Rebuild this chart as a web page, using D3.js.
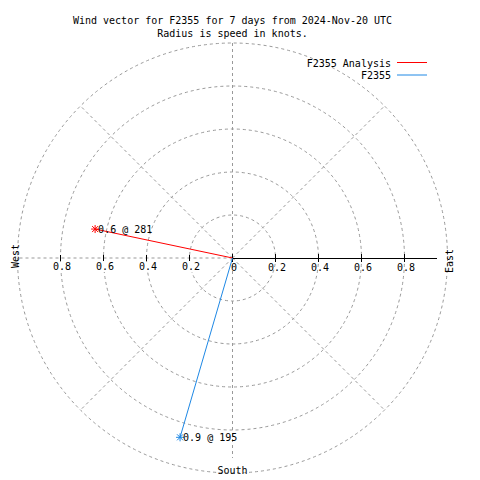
<!DOCTYPE html>
<html><head><meta charset="utf-8">
<script src="https://cdn.jsdelivr.net/npm/d3@7"></script>
<style>body{margin:0;background:#fff}svg{display:block}text{font-family:"DejaVu Sans Mono",monospace;font-size:10px;fill:#000}</style>
</head><body>
<script>
// data
const seriesNames = ["F2355 Analysis", "F2355"];
const seriesColors = ["#ff0000", "#1e88e5"];
const speeds = [0.653, 0.869];          // knots (radius)
const directions = [281.9, 196.3];      // degrees, clockwise from north
const pointLabels = ["0.6 @ 281", "0.9 @ 195"];
const ringValues = [0.2, 0.4, 0.6, 0.8, 1.0];
const tickValues = [0.2, 0.4, 0.6, 0.8];
const tickLabels = ["0.2", "0.4", "0.6", "0.8"];
const spokeAngles = [45, 135, 225, 315];
const titleLines = ["Wind vector for F2355 for 7 days from 2024-Nov-20 UTC", "Radius is speed in knots."];

const W = 480, H = 480, cx = 232.5, cy = 258;
const svg = d3.select("body").append("svg").attr("width", W).attr("height", H);
const r = d3.scaleLinear().domain([0, 1]).range([0, 215]);
const px = (v, a) => cx + r(v) * Math.sin(a * Math.PI / 180);
const py = (v, a) => cy - r(v) * Math.cos(a * Math.PI / 180);

const grid = svg.append("g").attr("fill", "none").attr("stroke", "#999").attr("stroke-dasharray", "3,3");
grid.selectAll("circle").data(ringValues).join("circle")
  .attr("cx", cx).attr("cy", cy).attr("r", d => r(d));
grid.selectAll("line.spoke").data(spokeAngles).join("line").attr("class", "spoke")
  .attr("x1", cx).attr("y1", cy).attr("x2", d => px(1, d)).attr("y2", d => py(1, d));
grid.append("line").attr("x1", cx).attr("y1", py(1, 0)).attr("x2", cx).attr("y2", py(0.93, 180));
grid.append("line").attr("x1", cx).attr("y1", cy).attr("x2", px(1, 270)).attr("y2", cy);

// left (west) ticks and labels
const left = svg.append("g").attr("shape-rendering", "crispEdges");
left.selectAll("line").data(tickValues).join("line")
  .attr("x1", d => px(d, 270)).attr("x2", d => px(d, 270))
  .attr("y1", cy - 3).attr("y2", cy + 3).attr("stroke", "#000");
left.selectAll("rect").data(tickValues).join("rect")
  .attr("x", d => px(d, 270) - 8).attr("y", cy + 4).attr("width", 19).attr("height", 10).attr("fill", "#fff");
left.selectAll("text").data(tickValues).join("text")
  .attr("x", d => px(d, 270) + 1.5).attr("y", cy + 12).attr("text-anchor", "middle")
  .text((d, i) => tickLabels[i]);

// right (east) axis
const xr = d3.scaleLinear().domain([0, 0.95]).range([cx, px(0.95, 90)]);
const right = svg.append("g").attr("shape-rendering", "crispEdges");
right.append("line").attr("x1", xr(0)).attr("x2", xr(0.95)).attr("y1", cy).attr("y2", cy).attr("stroke", "#000");
right.selectAll("line.t").data([0].concat(tickValues)).join("line").attr("class", "t")
  .attr("x1", d => xr(d)).attr("x2", d => xr(d))
  .attr("y1", cy - 4).attr("y2", cy + 4).attr("stroke", "#000");
right.selectAll("text").data([0].concat(tickValues)).join("text")
  .attr("x", d => xr(d) + 1.5).attr("y", cy + 13).attr("text-anchor", "middle")
  .text((d, i) => i === 0 ? "0" : tickLabels[i - 1]);

// compass labels
svg.append("text").attr("transform", `translate(19,${cy - 2}) rotate(-90)`).attr("text-anchor", "middle").text("West");
svg.append("text").attr("transform", `translate(453,${cy + 3}) rotate(-90)`).attr("text-anchor", "middle").text("East");
svg.append("text").attr("x", cx).attr("y", 474).attr("text-anchor", "middle").text("South");

// title
svg.selectAll("text.title").data(titleLines).join("text").attr("class", "title")
  .attr("x", cx).attr("y", (d, i) => 24 + i * 13).attr("text-anchor", "middle").text(d => d);

// vectors
const vec = svg.append("g");
speeds.forEach((s, i) => {
  const x = px(s, directions[i]), y = py(s, directions[i]);
  vec.append("line").attr("x1", cx).attr("y1", cy).attr("x2", x).attr("y2", y)
    .attr("stroke", seriesColors[i]).attr("stroke-width", 1);
  const star = vec.append("g").attr("stroke", seriesColors[i]).attr("stroke-width", 1);
  [[-4, 0, 4, 0], [0, -4, 0, 4], [-3, -3, 3, 3], [-3, 3, 3, -3]].forEach(o =>
    star.append("line").attr("x1", x + o[0]).attr("y1", y + o[1]).attr("x2", x + o[2]).attr("y2", y + o[3]));
  vec.append("text").attr("x", x + 3).attr("y", y + 3.5).text(pointLabels[i]);
});

// legend
const leg = svg.append("g");
seriesNames.forEach((n, i) => {
  const y = 62.5 + i * 12.5;
  leg.append("text").attr("x", 391).attr("y", y + 4).attr("text-anchor", "end").text(n);
  leg.append("line").attr("x1", 397).attr("x2", 427).attr("y1", y).attr("y2", y).attr("stroke", seriesColors[i]);
});
</script>
</body></html>
